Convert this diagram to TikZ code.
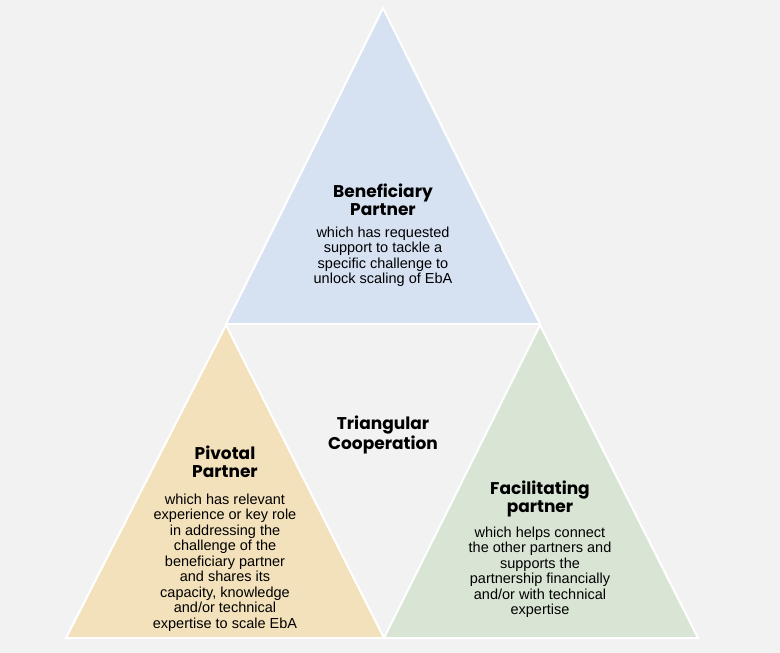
\documentclass[tikz,border=0pt]{standalone}
\usepackage{fontspec}
\setmainfont{Liberation Sans}
\newfontfamily\headfont{Poppins}
\definecolor{pagegray}{HTML}{F2F2F2}
\definecolor{benblue}{HTML}{D6E1F2}
\definecolor{pivyellow}{HTML}{F2E1BA}
\definecolor{facgreen}{HTML}{D9E5D4}
\begin{document}
\begin{tikzpicture}[x=1pt, y=-1pt,
        tri/.style={draw=white, line width=2pt, line join=miter},
        head/.style={anchor=north, align=center, inner sep=0pt, font=\headfont\bfseries\fontsize{17}{18.5}\selectfont},
        desc/.style={anchor=north, align=center, inner sep=0pt, font=\fontsize{14.5}{15.5}\selectfont}
    ]
    \fill[pagegray] (0,0) rectangle (780,653);
    \useasboundingbox (0,0) rectangle (780,653);
    % the three triangles
    \path[tri, fill=benblue] (383,8) -- (540,324) -- (226,324) -- cycle;
    \path[tri, fill=pivyellow] (226,325) -- (384,638) -- (66,638) -- cycle;
    \path[tri, fill=facgreen] (540,325) -- (698,638) -- (384,638) -- cycle;
    % texts
    \node[head] (benhead) at (383,183.5) {Beneficiary\\Partner};
    \node[desc] (bendesc) at (383,226.6) {which has requested\\support to tackle a\\specific challenge to\\unlock scaling of EbA};
    \node[head] (pivhead) at (225,445.5) {Pivotal\\Partner};
    \node[desc] (pivdesc) at (225,493.6) {which has relevant\\experience or key role\\in addressing the\\challenge of the\\beneficiary partner\\and shares its\\capacity, knowledge\\and/or technical\\expertise to scale EbA};
    \node[head, font=\headfont\bfseries\fontsize{17}{20}\selectfont] (coop) at (383,415.5) {Triangular\\Cooperation};
    \node[head] (fachead) at (540,480.5) {Facilitating\\partner};
    \node[desc] (facdesc) at (540,526.3) {which helps connect\\the other partners and\\supports the\\partnership financially\\and/or with technical\\expertise};
\end{tikzpicture}
\end{document}
